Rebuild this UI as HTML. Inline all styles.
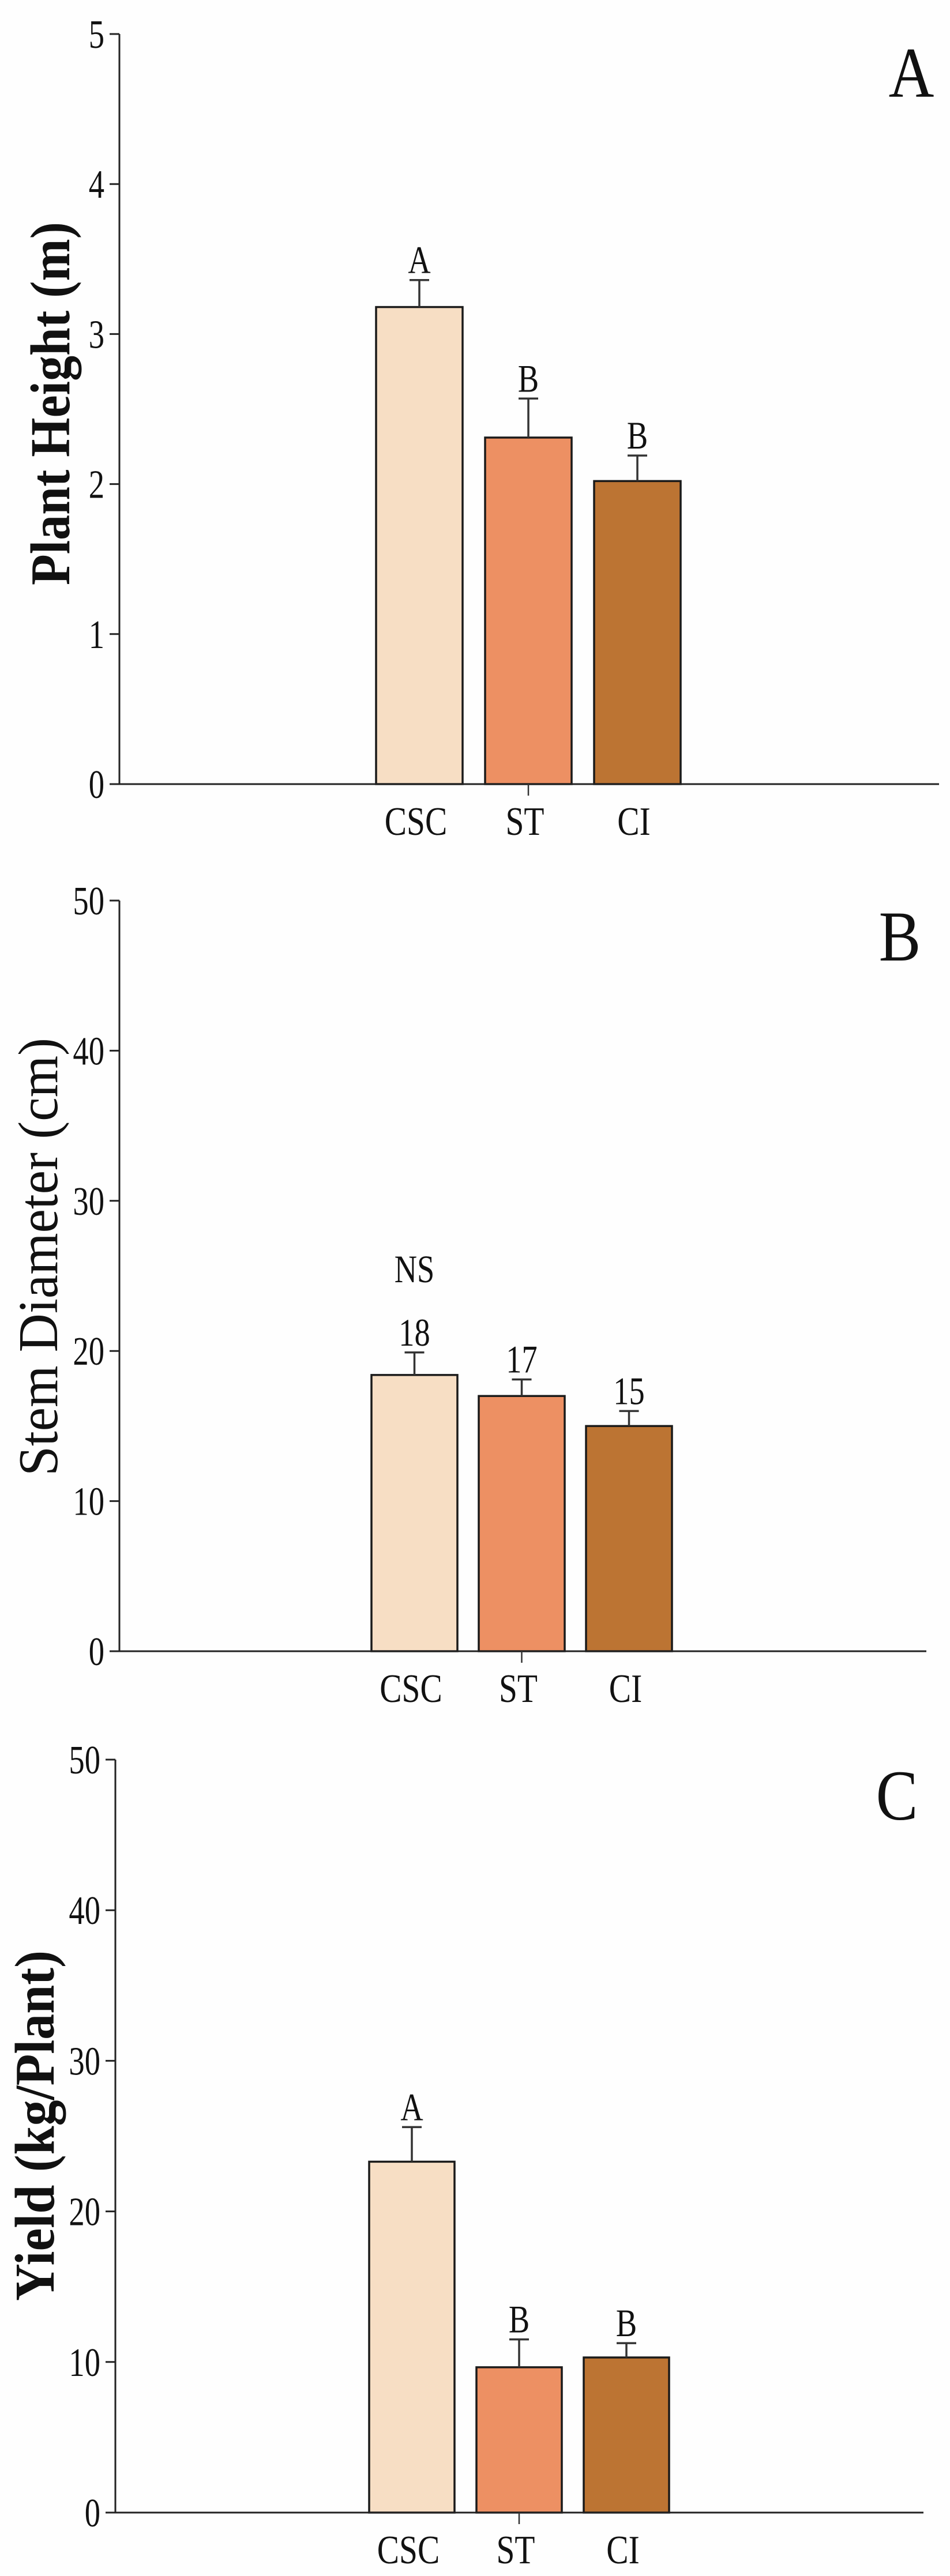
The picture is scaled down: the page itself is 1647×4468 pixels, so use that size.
<!DOCTYPE html>
<html><head><meta charset="utf-8"><style>
html,body{margin:0;padding:0;background:#fefefe}
svg{display:block}
text{font-family:"Liberation Serif",serif;fill:#111}
</style></head><body>
<svg id="chart" width="1647" height="4468" viewBox="0 0 1647 4468" xmlns="http://www.w3.org/2000/svg">
<rect width="1647" height="4468" fill="#fefefe"/>
</svg>
<script>
const categories = ["CSC", "ST", "CI"];
const colors = ["#f7dec4", "#ed9063", "#bc7433"];
const valuesA = [3.18, 2.31, 2.02];
const errorsA = [0.18, 0.26, 0.17];
const lettersA = ["A", "B", "B"];
const ticksA = [0, 1, 2, 3, 4, 5];
const valuesB = [18.4, 17.0, 15.0];
const errorsB = [1.5, 1.1, 1.0];
const lettersB = ["18", "17", "15"];
const ticksB = [0, 10, 20, 30, 40, 50];
const valuesC = [23.3, 9.65, 10.3];
const errorsC = [2.3, 1.85, 0.95];
const lettersC = ["A", "B", "B"];
const ticksC = [0, 10, 20, 30, 40, 50];

const svg = document.getElementById('chart');
const NS = 'http://www.w3.org/2000/svg';
function mk(tag, attrs, parent) {
  const e = document.createElementNS(NS, tag);
  for (const k in attrs) e.setAttribute(k, attrs[k]);
  (parent || svg).appendChild(e);
  return e;
}
function txt(s, x, y, size, anchor, sx, weight, parent) {
  const g = mk('g', {transform: 'translate(' + x + ',' + y + ') scale(' + sx + ',1)'}, parent);
  const t = mk('text', {x: 0, y: 0, 'font-size': size, 'text-anchor': anchor, 'font-weight': weight || 'normal'}, g);
  t.textContent = s;
  return t;
}

const panels = [
  {id: 'a', vals: valuesA, errs: errorsA, lets: lettersA, ticks: ticksA, max: 5, axX: 207, top: 59, bot: 1360, xEnd: 1628, barL: 652, barW: 150, gap: 189,
   title: 'Plant Height (m)', bold: true, tX: 87, tC: 700, tLen: 630, letter: 'A', lX: 1580, lY: 168, letOffset: 12, ns: null},
  {id: 'b', vals: valuesB, errs: errorsB, lets: lettersB, ticks: ticksB, max: 50, axX: 207, top: 1562, bot: 2864, xEnd: 1606, barL: 644, barW: 149, gap: 186,
   title: 'Stem Diameter (cm)', bold: false, tX: 66, tC: 2180, tLen: 760, letter: 'B', lX: 1560, lY: 1666, letOffset: 12, ns: 2224},
  {id: 'c', vals: valuesC, errs: errorsC, lets: lettersC, ticks: ticksC, max: 50, axX: 200, top: 3052, bot: 4358, xEnd: 1601, barL: 640, barW: 148, gap: 186,
   title: 'Yield (kg/Plant)', bold: true, tX: 60, tC: 3687, tLen: 608, letter: 'C', lX: 1555, lY: 3156, letOffset: 12, ns: null}
];

panels.forEach(function (p) {
  const g = mk('g', {});
  
  
  const y = function (v) { return p.bot - (v / p.max) * (p.bot - p.top); };
  const xc = function (i) { return p.barL + i * p.gap + p.barW / 2; };

  // y axis
  const ya = mk('line', {x1: p.axX, y1: p.top, x2: p.axX, y2: p.bot, stroke: '#222', 'stroke-width': 3}, g);
  
  
  p.ticks.forEach(function (t) {
    const tk = mk('line', {x1: p.axX - 17, y1: y(t), x2: p.axX, y2: y(t), stroke: '#222', 'stroke-width': 3}, g);
    
    
    const tl = txt(String(t), p.axX - 26, y(t) + 24, 70, 'end', 0.78, 'normal', g);
    
    
  });

  // bars
  p.vals.forEach(function (v, i) {
    const r = mk('rect', {x: p.barL + i * p.gap, y: y(v), width: p.barW, height: p.bot - y(v), fill: colors[i], stroke: '#1a1a1a', 'stroke-width': 3.5}, g);
    
    
    const et = y(v + p.errs[i]);
    const el = mk('line', {x1: xc(i), y1: y(v), x2: xc(i), y2: et, stroke: '#333', 'stroke-width': 3.5}, g);
    
    
    const ec = mk('line', {x1: xc(i) - 17, y1: et, x2: xc(i) + 17, y2: et, stroke: '#333', 'stroke-width': 3.5}, g);
    
    
    const sl = txt(p.lets[i], xc(i), et - p.letOffset, 68, 'middle', 0.8, 'normal', g);
    
    
    const xl = txt(categories[i], xc(i) - 6, p.bot + 88, 70, 'middle', 0.82, 'normal', g);
    
    
  });

  // x axis
  const xa = mk('line', {x1: p.axX - 17, y1: p.bot, x2: p.xEnd, y2: p.bot, stroke: '#222', 'stroke-width': 3}, g);
  
  
  const xt = mk('line', {x1: xc(1), y1: p.bot, x2: xc(1), y2: p.bot + 20, stroke: '#333', 'stroke-width': 2.5}, g);
  
  

  if (p.ns) {
    const ns = txt('NS', xc(0), p.ns, 68, 'middle', 0.8, 'normal', g);
    
    
  }

  // title
  const tg = mk('g', {transform: 'translate(' + (p.tX + 33) + ',' + p.tC + ') rotate(-90)'}, g);
  const tt = mk('text', {x: 0, y: 0, 'font-size': 98, 'text-anchor': 'middle', 'font-weight': p.bold ? 'bold' : 'normal', textLength: p.tLen, lengthAdjust: 'spacingAndGlyphs'}, tg);
  tt.textContent = p.title;
  
  

  const pl = txt(p.letter, p.lX, p.lY, 124, 'middle', 0.88, 'normal', g);
  
  
});
</script>
</body></html>
